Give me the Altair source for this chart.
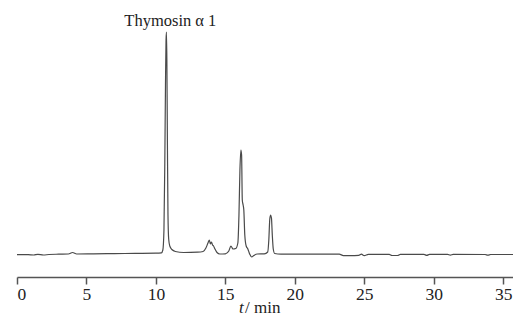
import altair as alt
import pandas as pd

# Chromatogram: time (min) and detector signal (arbitrary units above baseline)
time_min = [0.0, 0.8, 1.2, 1.5, 1.9, 2.3, 3.0, 3.7, 4.0, 4.3, 5.5, 7.0, 8.5, 10.0, 10.4,
            10.5, 10.58, 10.64, 10.69, 10.73, 10.76, 10.79, 10.83, 10.87, 10.92, 11.0, 11.15,
            11.4, 12.0, 13.0, 13.4, 13.6, 13.75, 13.85, 13.92, 14.0, 14.08, 14.15, 14.25, 14.4,
            14.6, 15.0, 15.25, 15.4, 15.55, 15.75, 15.9, 15.98, 16.05, 16.12, 16.17, 16.22,
            16.28, 16.33, 16.4, 16.5, 16.62, 16.75, 16.9, 17.05, 17.3, 17.8, 18.05, 18.13,
            18.2, 18.26, 18.32, 18.38, 18.45, 18.55, 19.0, 20.0, 23.2, 23.5, 24.0, 24.6, 24.8,
            25.0, 25.3, 26.8, 27.0, 27.4, 27.6, 29.3, 29.5, 29.7, 31.0, 31.2, 31.4, 33.7, 33.9,
            34.1, 35.71]
signal = [0.3, 0.3, 0.0, 0.6, 0.0, 0.5, 0.8, 1.0, 2.5, 1.0, 1.2, 1.4, 1.6, 1.8, 2.2,
          5, 25, 90, 170, 215, 223, 195, 110, 40, 16, 9, 5.5,
          3.5, 2.5, 2.8, 3.5, 7, 12, 15, 11, 13, 10, 9, 6, 2.5,
          1.0, 1.2, 4, 9, 6, 6.5, 12, 40, 85, 105, 100, 55,
          50, 45, 20, 9, 6, 1, -2, -0.5, 1, 1.2, 3, 15,
          36, 40, 37, 20, 6, 1.5, 0.8, 0.8, 0.8, -0.6, -0.7, -0.4, 0.8,
          -0.6, 0.6, 0.6, -0.5, -0.5, 0.6, 0.6, -0.3, 0.6, 0.6, -0.2, 0.6, 0.5, -0.2,
          0.5, 0.5]

label_text = ["Thymosin α 1"]
label_t = [11.04]
label_y = [229]

tick_values = [0, 5, 10, 15, 20, 25, 30, 35]

FONT = "Liberation Serif"

df = pd.DataFrame({"t": time_min, "s": signal})
lab = pd.DataFrame({"text": label_text, "t": label_t, "s": label_y})

xscale = alt.Scale(domain=[0, 35.71], nice=False, zero=False)
yscale = alt.Scale(domain=[-22, 247], nice=False, zero=False)

line = alt.Chart(df).mark_line(color="#4a4a4a", strokeWidth=1.2, interpolate="monotone").encode(
    x=alt.X("t:Q", scale=xscale,
            axis=alt.Axis(values=tick_values, title=None, grid=False,
                          domainColor="#555", domainWidth=1.5, tickColor="#555",
                          tickWidth=1.5, tickSize=7, labelFont=FONT, labelFontSize=17.5,
                          labelColor="#222", labelPadding=1, format="d")),
    y=alt.Y("s:Q", scale=yscale, axis=None),
)

ann = alt.Chart(lab).mark_text(font=FONT, fontSize=16.5, color="#222", baseline="alphabetic").encode(
    x=alt.X("t:Q", scale=xscale),
    y=alt.Y("s:Q", scale=yscale),
    text="text:N",
)

title_t = alt.Chart(pd.DataFrame({"text": ["t"]})).mark_text(
    font=FONT, fontSize=17, fontStyle="italic", color="#222", align="left", baseline="alphabetic"
).encode(x=alt.value(222), y=alt.value(305), text="text:N")

title_rest = alt.Chart(pd.DataFrame({"text": ["/ min"]})).mark_text(
    font=FONT, fontSize=17, color="#222", align="left", baseline="alphabetic"
).encode(x=alt.value(228), y=alt.value(305), text="text:N")

chart = alt.layer(line, ann, title_t, title_rest).properties(
    width=496, height=269,
    autosize=alt.AutoSizeParams(type="none"),
    padding={"left": 9, "top": 0, "right": 0, "bottom": 40},
).configure_view(stroke=None)

chart.save("out.html", embed_options={"renderer": "svg", "actions": False})
